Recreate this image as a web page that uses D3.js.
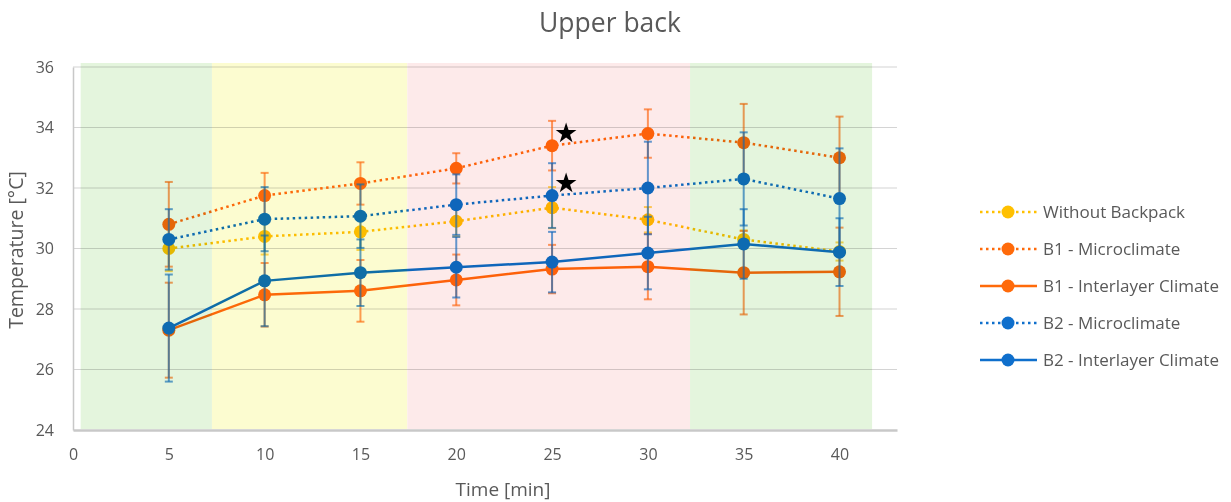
<!DOCTYPE html>
<html>
<head>
<meta charset="utf-8">
<script src="https://cdn.jsdelivr.net/npm/d3@7"></script>
<style>
    body { margin: 0; background: #fff; }
    text { font-family: "Open Sans", sans-serif; fill: #595959; }
</style>
</head>
<body>
<div id="chart"></div>
<script>
// values
var times = [5, 10, 15, 20, 25, 30, 35, 40];

var withoutBackpack   = [30.0, 30.4, 30.55, 30.9, 31.35, 30.95, 30.3, 29.9];
var withoutBackpackSd = [0.75, 0.6, 0.6, 0.5, 0.68, 0.42, 0.3, 0.3];
var b1Micro   = [30.8, 31.75, 32.15, 32.65, 33.4, 33.8, 33.5, 33.0];
var b1MicroSd = [1.4, 0.75, 0.7, 0.5, 0.82, 0.8, 1.28, 1.36];
var b1Inter   = [27.3, 28.47, 28.6, 28.96, 29.32, 29.4, 29.2, 29.23];
var b1InterSd = [1.57, 1.05, 1.02, 0.84, 0.8, 1.08, 1.38, 1.46];
var b2Micro   = [30.3, 30.97, 31.07, 31.45, 31.75, 32.0, 32.3, 31.65];
var b2MicroSd = [1.0, 1.06, 1.05, 1.0, 1.07, 1.53, 1.54, 1.66];
var b2Inter   = [27.37, 28.93, 29.2, 29.38, 29.55, 29.85, 30.15, 29.88];
var b2InterSd = [1.77, 1.5, 1.1, 1.0, 1.0, 1.2, 1.15, 1.12];

var seriesNames = ['Without Backpack', 'B1 - Microclimate', 'B1 - Interlayer Climate',
    'B2 - Microclimate', 'B2 - Interlayer Climate'];

// background phases (time ranges)
var phaseStart = [0.4, 7.25, 17.45, 32.2];
var phaseEnd   = [7.25, 17.45, 32.2, 41.7];
var phaseColors = ['#e4f5dd', '#fcfcd0', '#fdeaea', '#e4f5dd'];

// significance stars (time, temperature of the marked point)
var starTimes = [25, 25];
var starTemps = [33.4, 31.75];

var xTicks = [0, 5, 10, 15, 20, 25, 30, 35, 40];
var yTicks = [24, 26, 28, 30, 32, 34, 36];

var svgWidth = 1231;
var svgHeight = 502;

var margin = { top: 67, left: 73, right: 334, bottom: 72 };
var width = svgWidth - margin.left - margin.right;
var height = svgHeight - margin.top - margin.bottom;

var orange = '#ff6a0a';
var blue = '#0f6fcc';
var yellow = '#ffc000';

var series = [
    { name: seriesNames[0], values: withoutBackpack, sd: withoutBackpackSd, color: yellow, dotted: true },
    { name: seriesNames[1], values: b1Micro, sd: b1MicroSd, color: orange, dotted: true },
    { name: seriesNames[2], values: b1Inter, sd: b1InterSd, color: orange, dotted: false },
    { name: seriesNames[3], values: b2Micro, sd: b2MicroSd, color: blue, dotted: true },
    { name: seriesNames[4], values: b2Inter, sd: b2InterSd, color: blue, dotted: false }
];

var svg = d3.select('#chart')
    .append('svg')
    .attr('width', svgWidth)
    .attr('height', svgHeight);

var chartGroup = svg.append('g')
    .attr('transform', `translate(${margin.left}, ${margin.top})`);

var xScale = d3.scaleLinear().domain([0, 43]).range([0, width]);
var yScale = d3.scaleLinear().domain([24, 36]).range([height, 0]);

// gridlines
chartGroup.append('g')
    .selectAll('line')
    .data(yTicks.slice(1))
    .enter()
    .append('line')
    .attr('x1', 0)
    .attr('x2', width)
    .attr('y1', d => yScale(d))
    .attr('y2', d => yScale(d))
    .attr('stroke', '#d4d4d4')
    .attr('stroke-width', 1.2);

// axes
var bottomAxis = d3.axisBottom(xScale).tickValues(xTicks).tickSize(0).tickPadding(19);
var leftAxis = d3.axisLeft(yScale).tickValues(yTicks).tickSize(0).tickPadding(19);

var xAxisG = chartGroup.append('g')
    .attr('transform', `translate(0, ${height})`)
    .call(bottomAxis);
xAxisG.select('.domain').attr('stroke', '#c8c8c8').attr('stroke-width', 2.5);

var yAxisG = chartGroup.append('g').call(leftAxis);
yAxisG.select('.domain').attr('stroke', '#c8c8c8').attr('stroke-width', 1.5);

svg.selectAll('.tick text')
    .attr('font-size', '16px')
    .attr('fill', '#595959')
    .attr('font-family', '"Open Sans", sans-serif');

var line = d3.line()
    .x((d, i) => xScale(times[i]))
    .y(d => yScale(d));

series.forEach(function(s) {
    var g = chartGroup.append('g');

    // error bars
    var bars = g.selectAll('g.err')
        .data(s.values)
        .enter()
        .append('g')
        .attr('stroke', s.color)
        .attr('stroke-opacity', 0.65)
        .attr('stroke-width', 2);
    bars.append('line')
        .attr('x1', (d, i) => xScale(times[i]))
        .attr('x2', (d, i) => xScale(times[i]))
        .attr('y1', (d, i) => yScale(d - s.sd[i]))
        .attr('y2', (d, i) => yScale(d + s.sd[i]));
    bars.append('line')
        .attr('x1', (d, i) => xScale(times[i]) - 4)
        .attr('x2', (d, i) => xScale(times[i]) + 4)
        .attr('y1', (d, i) => yScale(d + s.sd[i]))
        .attr('y2', (d, i) => yScale(d + s.sd[i]));
    bars.append('line')
        .attr('x1', (d, i) => xScale(times[i]) - 4)
        .attr('x2', (d, i) => xScale(times[i]) + 4)
        .attr('y1', (d, i) => yScale(d - s.sd[i]))
        .attr('y2', (d, i) => yScale(d - s.sd[i]));

    g.append('path')
        .datum(s.values)
        .attr('d', line)
        .attr('fill', 'none')
        .attr('stroke', s.color)
        .attr('stroke-width', 2.5)
        .attr('stroke-dasharray', s.dotted ? '2.5,3.5' : null);

    g.selectAll('circle')
        .data(s.values)
        .enter()
        .append('circle')
        .attr('cx', (d, i) => xScale(times[i]))
        .attr('cy', d => yScale(d))
        .attr('r', 6.5)
        .attr('fill', s.color);
});

// stars
chartGroup.selectAll('text.star')
    .data(starTimes)
    .enter()
    .append('text')
    .attr('class', 'star')
    .attr('x', (d, i) => xScale(d) + 14)
    .attr('y', (d, i) => yScale(starTemps[i]) - 4)
    .attr('text-anchor', 'middle')
    .attr('font-size', '27px')
    .attr('font-family', 'DejaVu Sans')
    .style('fill', '#000')
    .text('\u2605');

// phase bands drawn on top with multiply, like the tinted original
chartGroup.append('g')
    .style('mix-blend-mode', 'multiply')
    .selectAll('rect')
    .data(phaseStart)
    .enter()
    .append('rect')
    .attr('x', d => xScale(d))
    .attr('width', (d, i) => xScale(phaseEnd[i]) - xScale(d))
    .attr('y', -4)
    .attr('height', height + 3)
    .attr('fill', (d, i) => phaseColors[i]);

// titles
svg.append('text')
    .attr('x', 610)
    .attr('y', 32)
    .attr('text-anchor', 'middle')
    .attr('font-size', '26.5px')
    .text('Upper back');

svg.append('text')
    .attr('transform', 'rotate(-90)')
    .attr('x', -250)
    .attr('y', 23)
    .attr('text-anchor', 'middle')
    .attr('font-size', '19.5px')
    .text('Temperature [°C]');

svg.append('text')
    .attr('x', 503)
    .attr('y', 496)
    .attr('text-anchor', 'middle')
    .attr('font-size', '19px')
    .text('Time [min]');

// legend
var legend = svg.append('g')
    .attr('transform', 'translate(980, 212)');

var legendItems = legend.selectAll('g')
    .data(series)
    .enter()
    .append('g')
    .attr('transform', (d, i) => `translate(0, ${i * 37})`);

legendItems.append('line')
    .attr('x1', 0)
    .attr('x2', 57)
    .attr('stroke', d => d.color)
    .attr('stroke-width', 2.5)
    .attr('stroke-dasharray', d => d.dotted ? '2.5,3.5' : null);

legendItems.append('circle')
    .attr('cx', 28)
    .attr('r', 6.5)
    .attr('fill', d => d.color);

legendItems.append('text')
    .attr('x', 63)
    .attr('dy', '0.35em')
    .attr('font-size', '17px')
    .text(d => d.name);
</script>
</body>
</html>
